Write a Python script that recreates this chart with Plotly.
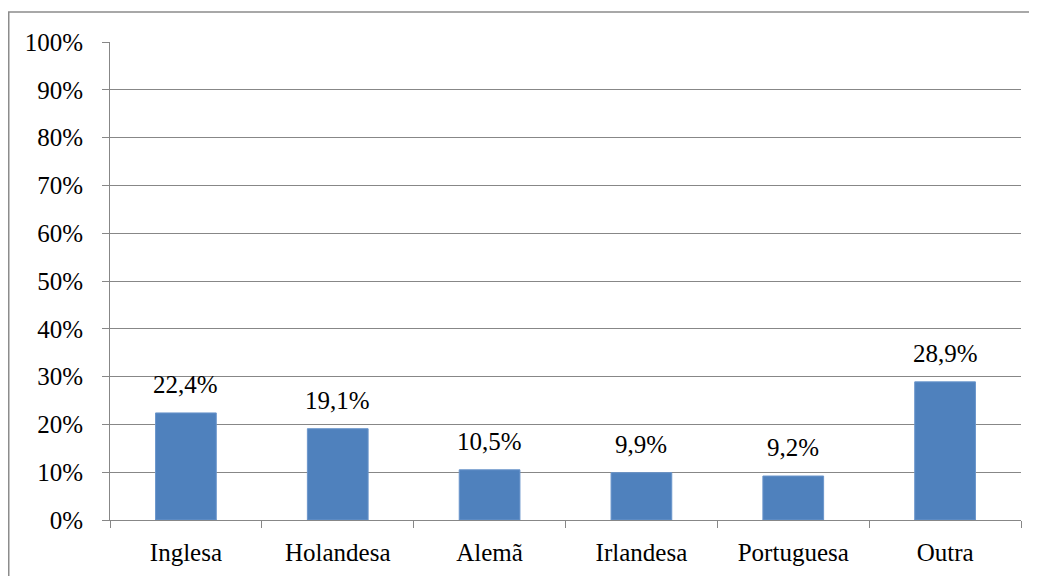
import plotly.graph_objects as go

categories = ["Inglesa", "Holandesa", "Alemã", "Irlandesa", "Portuguesa", "Outra"]
values = [22.4, 19.1, 10.5, 9.9, 9.2, 28.9]
y_ticks = [0, 10, 20, 30, 40, 50, 60, 70, 80, 90, 100]
y_tick_labels = [f"{v}%" for v in y_ticks]
labels = [f"{v:.1f}%".replace(".", ",") for v in values]

FONT = "Times New Roman, Liberation Serif, Tinos, DejaVu Serif, serif"
FS = 25
GRID = "#878787"

# page body has an 8px margin; plot area on screen: x 110..1021, y 42..520
L, T = 102, 34
PW, PH = 911, 478
W, H = 1037, 576

fig = go.Figure()
fig.add_trace(go.Bar(
    x=categories, y=values,
    marker=dict(color="#4F81BD", line=dict(color="#6A95CB", width=1)),
    hoverinfo="skip",
))

for c, v, t in zip(categories, values, labels):
    fig.add_annotation(x=c, y=v, text=t, showarrow=False, yanchor="bottom",
                       yshift=13, font=dict(family=FONT, size=FS, color="black"))

fig.add_shape(type="rect", xref="paper", yref="paper",
              x0=(0.75 - L) / PW, x1=1.2, y0=-0.3, y1=1 + (T - 4) / PH,
              line=dict(color="#8c8c8c", width=1.5), layer="below")

fig.update_layout(
    width=W, height=H,
    margin=dict(l=L, r=W - L - PW, t=T, b=H - T - PH),
    paper_bgcolor="white", plot_bgcolor="white",
    bargap=0.6,
    showlegend=False,
    font=dict(family=FONT, size=FS, color="black"),
    xaxis=dict(
        showline=True, linecolor=GRID, linewidth=1,
        ticks="outside", tickson="boundaries", ticklen=7, tickcolor=GRID,
        showgrid=False, tickfont=dict(family=FONT, size=FS, color="black"),
        ticklabelstandoff=10,
    ),
    yaxis=dict(
        range=[0, 100], tickvals=y_ticks, ticktext=y_tick_labels,
        showline=True, linecolor=GRID, linewidth=1,
        ticks="outside", ticklen=7, tickcolor=GRID,
        showgrid=True, gridcolor=GRID, gridwidth=1,
        zeroline=False,
        tickfont=dict(family=FONT, size=FS, color="black"),
        ticklabelstandoff=14,
    ),
)

fig.write_html("out.html")
